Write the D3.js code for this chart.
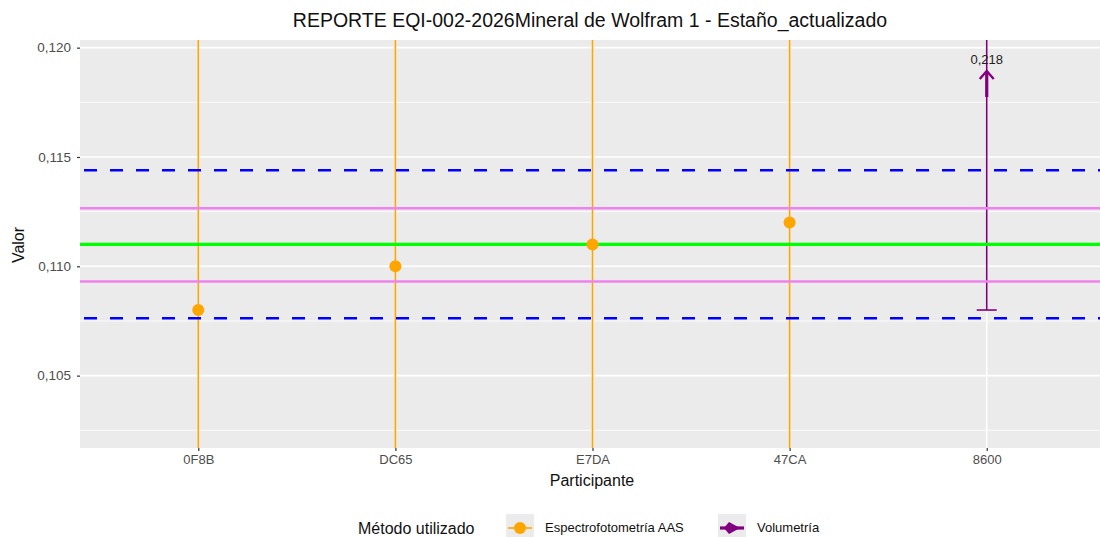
<!DOCTYPE html>
<html>
<head>
<meta charset="utf-8">
<style>
body { margin: 0; background: #fff; }
text { font-family: "Liberation Sans", Arial, sans-serif; }
</style>
</head>
<body>
<div id="my_dataviz"></div>
<script src="https://d3js.org/d3.v7.min.js"></script>
<script>
// data
var participants = ["0F8B", "DC65", "E7DA", "47CA", "8600"];
var values = [0.108, 0.110, 0.111, 0.112, 0.218];
var methods = ["Espectrofotometría AAS", "Espectrofotometría AAS", "Espectrofotometría AAS", "Espectrofotometría AAS", "Volumetría"];
var errLow = [0.090, 0.090, 0.090, 0.090, 0.108];
var errHigh = [0.130, 0.130, 0.130, 0.130, 0.328];
var assigned = [0.111];
var uLines = [0.10931, 0.11265];
var limitLines = [0.10762, 0.11439];
var yTicks = [0.105, 0.110, 0.115, 0.120];
var yMinor = [0.1025, 0.1075, 0.1125, 0.1175];
var methodNames = ["Espectrofotometría AAS", "Volumetría"];
var methodColors = ["orange", "#800080"];

var W = 1100, H = 537;
var panel = {left: 80, right: 1105, top: 40, bottom: 448};

var svg = d3.select("#my_dataviz").append("svg")
  .attr("width", W).attr("height", H);

var x = d3.scalePoint().domain(participants)
  .range([panel.left, panel.right]).padding(0.6);
var y = d3.scaleLinear().domain([0.10169, 0.12035])
  .range([panel.bottom, panel.top]);
var color = d3.scaleOrdinal().domain(methodNames).range(methodColors);

svg.append("defs").append("clipPath").attr("id", "clip")
  .append("rect").attr("x", panel.left).attr("y", panel.top)
  .attr("width", panel.right - panel.left).attr("height", panel.bottom - panel.top);

// panel background
svg.append("rect").attr("x", panel.left).attr("y", panel.top)
  .attr("width", panel.right - panel.left).attr("height", panel.bottom - panel.top)
  .attr("fill", "#ebebeb");

var g = svg.append("g").attr("clip-path", "url(#clip)");

// grid
g.selectAll(".minor").data(yMinor).enter().append("line")
  .attr("x1", panel.left).attr("x2", panel.right)
  .attr("y1", d => y(d)).attr("y2", d => y(d))
  .attr("stroke", "#fff").attr("stroke-width", 0.8);
g.selectAll(".major").data(yTicks).enter().append("line")
  .attr("x1", panel.left).attr("x2", panel.right)
  .attr("y1", d => y(d)).attr("y2", d => y(d))
  .attr("stroke", "#fff").attr("stroke-width", 1.6);
g.selectAll(".vmajor").data(participants).enter().append("line")
  .attr("x1", d => x(d)).attr("x2", d => x(d))
  .attr("y1", panel.top).attr("y2", panel.bottom)
  .attr("stroke", "#fff").attr("stroke-width", 1.6);

// error bars
g.selectAll(".err").data(participants).enter().append("line")
  .attr("x1", d => x(d)).attr("x2", d => x(d))
  .attr("y1", (d, i) => y(errLow[i])).attr("y2", (d, i) => y(errHigh[i]))
  .attr("stroke", (d, i) => color(methods[i])).attr("stroke-width", 1.6);
participants.forEach(function(d, i) {
  if (methods[i] === "Volumetría") {
    g.append("line").attr("x1", x(d) - 10).attr("x2", x(d) + 10)
      .attr("y1", y(errLow[i])).attr("y2", y(errLow[i]))
      .attr("stroke", color(methods[i])).attr("stroke-width", 1.6);
  }
});

// reference lines
g.selectAll(".lim").data(limitLines).enter().append("line")
  .attr("x1", panel.left).attr("x2", panel.right)
  .attr("y1", d => y(d)).attr("y2", d => y(d))
  .attr("stroke", "#0000ff").attr("stroke-width", 2.5)
  .attr("stroke-dasharray", "13,13").attr("stroke-dashoffset", -4);
g.selectAll(".u").data(uLines).enter().append("line")
  .attr("x1", panel.left).attr("x2", panel.right)
  .attr("y1", d => y(d)).attr("y2", d => y(d))
  .attr("stroke", "violet").attr("stroke-width", 2.5);
g.selectAll(".asg").data(assigned).enter().append("line")
  .attr("x1", panel.left).attr("x2", panel.right)
  .attr("y1", d => y(d)).attr("y2", d => y(d))
  .attr("stroke", "#00ff00").attr("stroke-width", 3.2);

// points inside range
var yMax = y.domain()[1];
participants.forEach(function(d, i) {
  if (values[i] <= yMax) {
    g.append("circle").attr("cx", x(d)).attr("cy", y(values[i]))
      .attr("r", 6).attr("fill", color(methods[i]));
  } else {
    // out-of-range value: arrow with label
    var xc = x(d), tip = 71, tail = 97;
    g.append("line").attr("x1", xc).attr("x2", xc).attr("y1", tail).attr("y2", tip)
      .attr("stroke", color(methods[i])).attr("stroke-width", 3.2);
    g.append("path").attr("d", "M" + (xc - 7) + "," + (tip + 8) + "L" + xc + "," + tip + "L" + (xc + 7) + "," + (tip + 8))
      .attr("fill", "none").attr("stroke", color(methods[i])).attr("stroke-width", 2.4);
    svg.append("text").attr("x", xc).attr("y", 64).attr("text-anchor", "middle")
      .attr("font-size", 13).attr("fill", "#222")
      .text(d3.format(".3f")(values[i]).replace(".", ","));
  }
});

// y axis
var yAxis = svg.append("g").attr("transform", "translate(" + panel.left + ",0)")
  .call(d3.axisLeft(y).tickValues(yTicks).tickSize(3).tickPadding(6)
    .tickFormat(d => d3.format(".3f")(d).replace(".", ",")));
yAxis.select(".domain").remove();
yAxis.selectAll("line").attr("stroke", "#333").attr("stroke-width", 1.2);
yAxis.selectAll("text").attr("font-size", 13.5).attr("fill", "#4d4d4d")
  .style("font-family", "Liberation Sans, Arial, sans-serif");

// x axis
var xAxis = svg.append("g").attr("transform", "translate(0," + panel.bottom + ")")
  .call(d3.axisBottom(x).tickSize(3).tickPadding(4));
xAxis.select(".domain").remove();
xAxis.selectAll("line").attr("stroke", "#333").attr("stroke-width", 1.2);
xAxis.selectAll("text").attr("font-size", 13).attr("fill", "#4d4d4d")
  .style("font-family", "Liberation Sans, Arial, sans-serif");

// titles
svg.append("text").attr("x", 590).attr("y", 27).attr("text-anchor", "middle")
  .attr("font-size", 19.5).attr("fill", "#111")
  .text("REPORTE EQI-002-2026Mineral de Wolfram 1 - Estaño_actualizado");
svg.append("text").attr("x", 592).attr("y", 486).attr("text-anchor", "middle")
  .attr("font-size", 16).attr("fill", "#111").text("Participante");
svg.append("text").attr("transform", "translate(24,245) rotate(-90)")
  .attr("text-anchor", "middle").attr("font-size", 16).attr("fill", "#111").text("Valor");

// legend
var lg = svg.append("g");
lg.append("text").attr("x", 358).attr("y", 534).attr("font-size", 16).attr("fill", "#111")
  .text("Método utilizado");
var keyX = [506, 718], labX = [545, 757];
methodNames.forEach(function(m, i) {
  lg.append("rect").attr("x", keyX[i]).attr("y", 514).attr("width", 28).attr("height", 28)
    .attr("fill", "#ebebeb");
  var cx = keyX[i] + 14, cy = 528;
  if (i === 0) {
    lg.append("line").attr("x1", keyX[i] + 2).attr("x2", keyX[i] + 26).attr("y1", cy).attr("y2", cy)
      .attr("stroke", color(m)).attr("stroke-width", 1.6);
    lg.append("circle").attr("cx", cx).attr("cy", cy).attr("r", 6).attr("fill", color(m));
  } else {
    lg.append("line").attr("x1", keyX[i] + 2).attr("x2", keyX[i] + 26).attr("y1", cy).attr("y2", cy)
      .attr("stroke", color(m)).attr("stroke-width", 3.2);
    lg.append("path").attr("d", "M" + (cx - 8) + "," + cy + "L" + (cx - 3) + "," + (cy - 6) + "L" + (cx + 8) + "," + cy + "L" + (cx - 3) + "," + (cy + 6) + "Z")
      .attr("fill", color(m));
  }
  lg.append("text").attr("x", labX[i]).attr("y", 532).attr("font-size", 13).attr("fill", "#111").text(m);
});
</script>
</body>
</html>
